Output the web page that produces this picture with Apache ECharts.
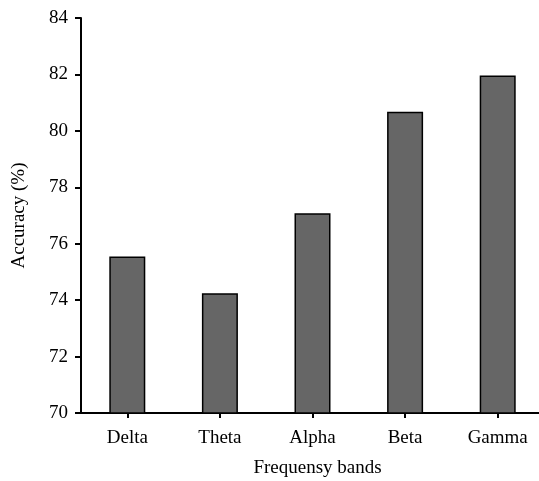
<!DOCTYPE html>
<html>
<head>
<meta charset="utf-8">
<script src="https://cdn.jsdelivr.net/npm/echarts@6/dist/echarts.min.js"></script>
<style>html,body{margin:0;padding:0;background:#fff;}#c{width:539px;height:481px;}</style>
</head>
<body>
<div id="c"></div>
<script>
const categories = ['Delta', 'Theta', 'Alpha', 'Beta', 'Gamma'];
const accuracy = [75.55, 74.24, 77.08, 80.68, 81.96];
const yTicks = { min: 70, max: 84, interval: 2 };

const font = '"Liberation Serif", "Times New Roman", serif';
const chart = echarts.init(document.getElementById('c'), null, { renderer: 'canvas' });
chart.setOption({
  animation: false,
  backgroundColor: '#ffffff',
  grid: { left: 81, right: -5, top: 18, bottom: 68, containLabel: false, outerBoundsMode: 'none' },
  xAxis: {
    type: 'category',
    data: categories,
    name: 'Frequensy bands',
    nameLocation: 'middle',
    nameGap: 46,
    nameTextStyle: { fontFamily: font, fontSize: 19, color: '#000', padding: [0, 0, 0, 10] },
    axisLine: { show: true, lineStyle: { color: '#000', width: 2 } },
    axisTick: { show: true, alignWithLabel: true, length: 5, lineStyle: { color: '#000', width: 2 } },
    axisLabel: { fontFamily: font, fontSize: 19, color: '#000', margin: 16 },
    splitLine: { show: false }
  },
  yAxis: {
    type: 'value',
    min: yTicks.min,
    max: yTicks.max,
    interval: yTicks.interval,
    name: 'Accuracy (%)',
    nameLocation: 'middle',
    nameGap: 52,
    nameRotate: 90,
    nameTextStyle: { fontFamily: font, fontSize: 19, color: '#000' },
    axisLine: { show: true, lineStyle: { color: '#000', width: 2 } },
    axisTick: { show: true, length: 6, lineStyle: { color: '#000', width: 2 } },
    axisLabel: { fontFamily: font, fontSize: 19, color: '#000', margin: 13 },
    splitLine: { show: false }
  },
  series: [{
    type: 'bar',
    data: accuracy,
    barWidth: 36,
    itemStyle: { color: '#666666', borderColor: '#000', borderWidth: 1.5 }
  }]
});
</script>
</body>
</html>
